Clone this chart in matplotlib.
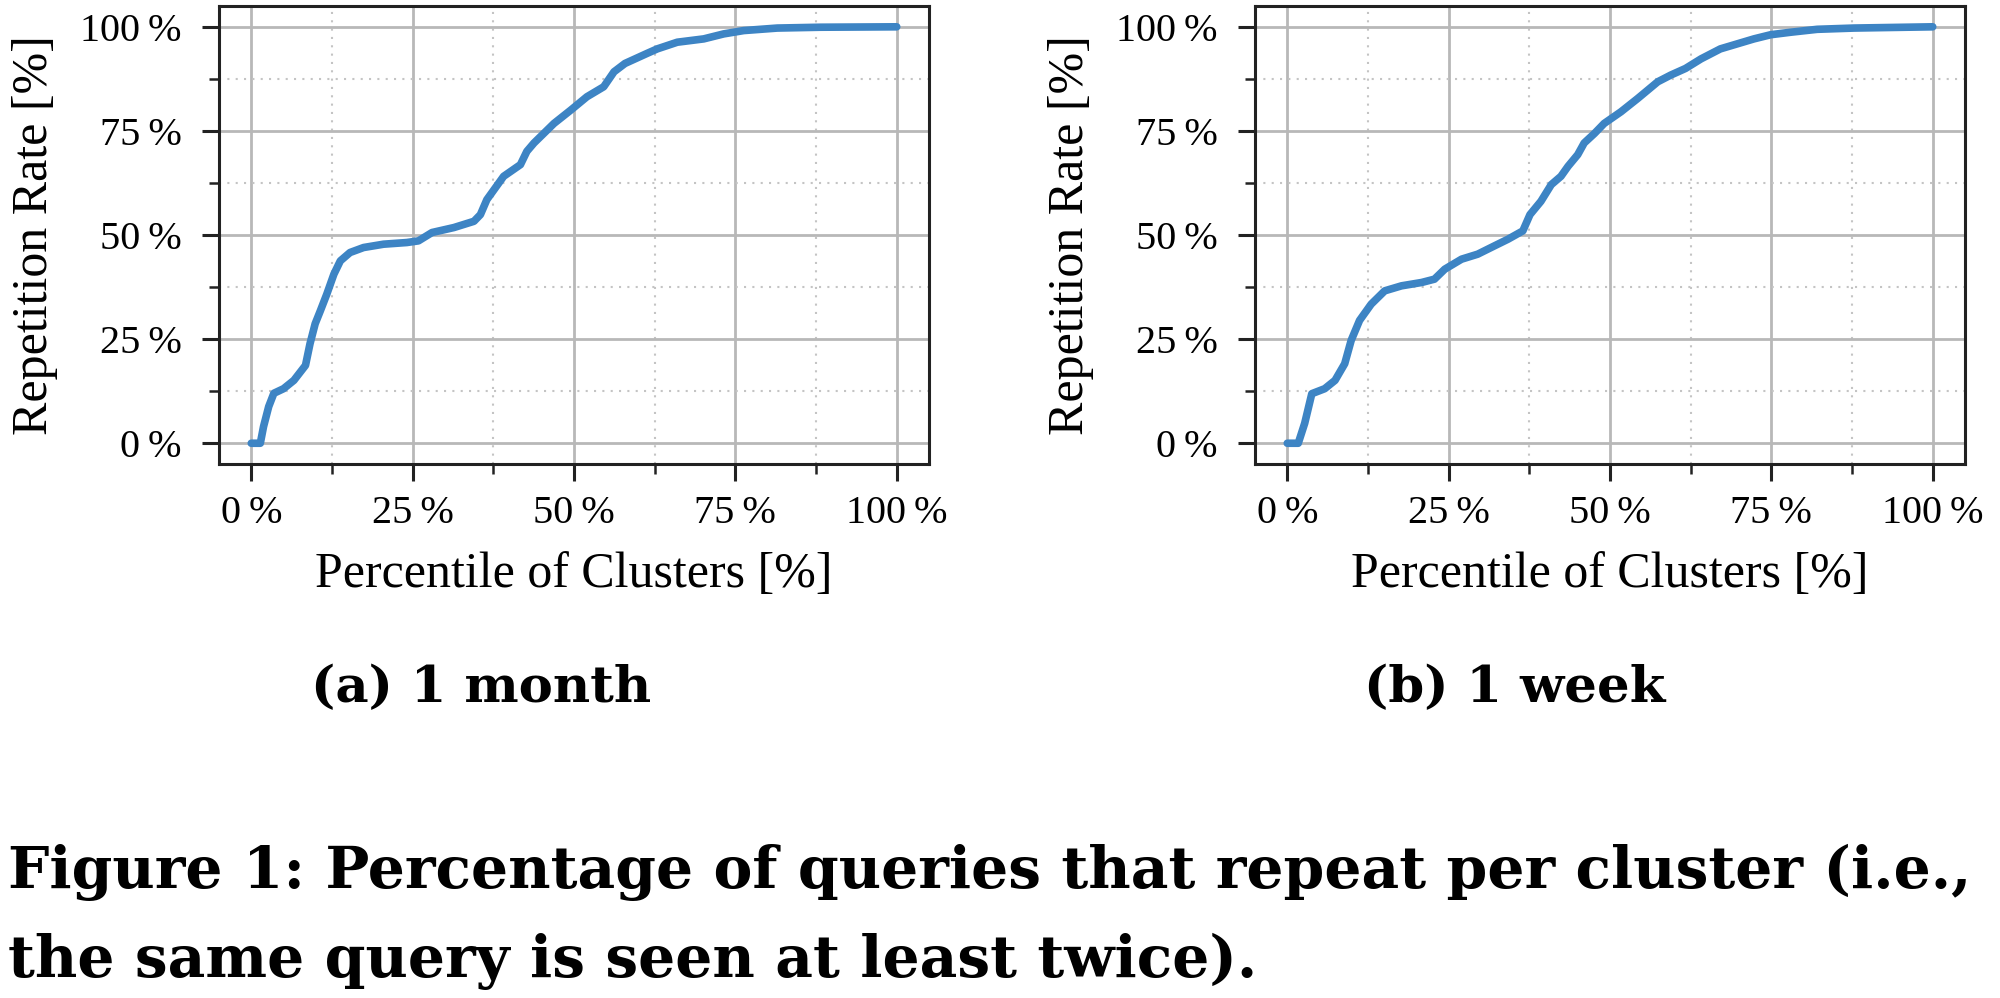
import matplotlib
matplotlib.use("Agg")
import matplotlib.pyplot as plt
from matplotlib.ticker import MultipleLocator, FuncFormatter

# ---- data ----
month_x = [0, 1.4, 1.9, 2.7, 3.5, 5.0, 6.6, 8.4, 9.1, 9.9, 10.7, 11.7, 12.8, 13.8,
           15.3, 17.4, 20.5, 24.1, 25.9, 28.0, 31.4, 34.5, 35.5, 36.5, 39.1, 41.7,
           42.7, 43.8, 46.9, 49.5, 52.0, 54.6, 56.2, 57.9, 61.3, 62.9, 66.0, 70.1,
           73.2, 76.3, 81.5, 88.2, 100]
month_y = [0, 0, 4.0, 8.8, 12.0, 13.1, 15.1, 18.7, 23.9, 28.7, 31.8, 35.8, 40.6, 43.8,
           45.8, 47.0, 47.8, 48.2, 48.6, 50.6, 51.8, 53.3, 54.9, 58.5, 64.1, 66.9,
           70.1, 72.1, 76.8, 80.0, 83.2, 85.6, 89.2, 91.2, 93.6, 94.7, 96.3, 97.1,
           98.3, 99.1, 99.7, 99.9, 100]

week_x = [0, 1.7, 2.7, 3.8, 5.8, 7.4, 8.9, 9.9, 11.2, 13.0, 15.1, 17.7, 20.8, 22.8,
          24.4, 27.0, 29.5, 32.1, 34.2, 36.5, 37.6, 39.3, 40.9, 42.4, 43.5, 45.0,
          46.0, 47.6, 49.1, 51.7, 54.3, 57.4, 59.4, 61.7, 64.1, 67.1, 69.7, 72.3,
          74.9, 78.0, 82.1, 87.8, 100]
week_y = [0, 0, 4.8, 11.9, 13.1, 15.1, 19.1, 24.7, 29.5, 33.4, 36.6, 37.8, 38.6, 39.4,
          41.8, 44.2, 45.4, 47.4, 49.0, 51.0, 54.9, 58.1, 62.1, 64.1, 66.5, 69.3,
          72.1, 74.4, 76.8, 79.6, 82.8, 86.8, 88.4, 90.0, 92.3, 94.7, 95.9, 97.1,
          98.1, 98.7, 99.4, 99.7, 100]

tick_vals = [0, 25, 50, 75, 100]
subcaptions = ["(a) 1 month", "(b) 1 week"]
xlabel = "Percentile of Clusters [%]"
ylabel = "Repetition Rate [%]"
caption_lines = ["Figure 1: Percentage of queries that repeat per cluster (i.e.,",
                 "the same query is seen at least twice)."]

# ---- style ----
plt.rcParams['font.family'] = ['Liberation Serif', 'DejaVu Serif']
LINE_COLOR = '#3d84c4'
BOLD_FONT = ['DejaVu Serif']

fig = plt.figure(figsize=(20, 9.98), dpi=100)
axes_rects = [[0.1095, 0.535, 0.355, 0.459], [0.6275, 0.535, 0.355, 0.459]]
sub_centers = [0.2405, 0.7575]
series = [(month_x, month_y), (week_x, week_y)]

fmt = FuncFormatter(lambda v, p: f"{v:.0f}\u2009%")

for rect, (xs, ys), sub, cx in zip(axes_rects, series, subcaptions, sub_centers):
    ax = fig.add_axes(rect)
    ax.plot(xs, ys, color=LINE_COLOR, lw=5.5, solid_capstyle='round', zorder=3)
    ax.set_xlim(-5, 105)
    ax.set_ylim(-5, 105)
    ax.set_xticks(tick_vals)
    ax.set_yticks(tick_vals)
    ax.xaxis.set_minor_locator(MultipleLocator(12.5))
    ax.yaxis.set_minor_locator(MultipleLocator(12.5))
    ax.xaxis.set_major_formatter(fmt)
    ax.yaxis.set_major_formatter(fmt)
    ax.grid(which='major', color='#b8b8b8', lw=2.0, ls='-', zorder=0)
    ax.grid(which='minor', color='#c4c4c4', lw=1.5, ls=(0, (1, 3)), zorder=0)
    ax.tick_params(which='major', direction='out', length=12, width=2.2,
                   labelsize=29, color='#222222')
    ax.tick_params(axis='y', which='major', pad=15)
    ax.tick_params(axis='x', which='major', pad=10)
    ax.tick_params(which='minor', direction='out', length=7, width=1.8, color='#222222')
    for s in ax.spines.values():
        s.set_linewidth(2.2)
        s.set_color('#222222')
    ax.set_xlabel(xlabel, fontsize=36, labelpad=14)
    ax.set_ylabel(ylabel, fontsize=36, labelpad=16)
    fig.text(cx, 1 - 702 / 998, sub, ha='center', va='baseline',
             fontsize=37, fontweight='bold', family=BOLD_FONT)

for line, ypix in zip(caption_lines, [888, 977]):
    fig.text(0.004, 1 - ypix / 998, line, ha='left', va='baseline', fontsize=42,
             fontweight='bold', family=BOLD_FONT)

fig.savefig("out.png", dpi=100)
